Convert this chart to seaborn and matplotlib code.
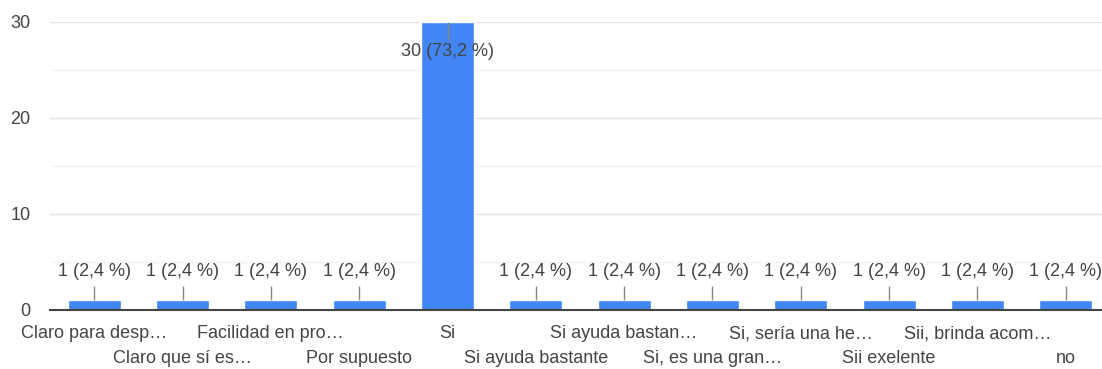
import pandas as pd
import seaborn as sns
import matplotlib.pyplot as plt

respuestas = ['Claro para desp…', 'Claro que sí es…', 'Facilidad en pro…', 'Por supuesto',
              'Si', 'Si ayuda bastante', 'Si ayuda bastan…', 'Si, es una gran…',
              'Si, sería una he…', 'Sii exelente', 'Sii, brinda acom…', 'no']
conteos = [1, 1, 1, 1, 30, 1, 1, 1, 1, 1, 1, 1]
porcentajes = ['2,4', '2,4', '2,4', '2,4', '73,2', '2,4', '2,4', '2,4', '2,4', '2,4', '2,4', '2,4']
yticks = [0, 10, 20, 30]

df = pd.DataFrame({'respuesta': respuestas, 'conteo': conteos})

sns.set_style('white')
plt.rcParams['font.family'] = ['Liberation Sans', 'DejaVu Sans']

fig = plt.figure(figsize=(11.02, 3.69), dpi=100)
ax = fig.add_axes([50 / 1102, 1 - 310 / 369, 1060 / 1102, 288 / 369])

# grid (minor at 5s, major at 10s)
for v in [5, 15, 25]:
    ax.axhline(v, color='#f2f2f2', lw=1, zorder=0)
for v in [10, 20, 30]:
    ax.axhline(v, color='#e4e4e4', lw=1, zorder=0)

sns.barplot(data=df, x='respuesta', y='conteo', color='#4285f4', saturation=1,
            width=0.6, ax=ax, zorder=2)

# etiquetas de valor con linea guia
for p, n, pct in zip(ax.patches, conteos, porcentajes):
    x = p.get_x() + p.get_width() / 2
    h = p.get_height()
    txt = f'{n} ({pct} %)'
    if h > 20:
        ax.vlines(x, h - 1.9, h, color='#888888', lw=1, zorder=3)
        ax.text(x, h - 3.1, txt, ha='center', va='center', fontsize=13, color='#444444', zorder=4)
    else:
        ax.vlines(x, h, h + 1.5, color='#888888', lw=1, zorder=3)
        ax.text(x, h + 3.0, txt, ha='center', va='center', fontsize=13, color='#444444', zorder=4)

ax.set_ylim(0, 30)
ax.set_xlim(-0.5, 11.5)
ax.set_yticks(yticks)
ax.tick_params(axis='y', length=0, labelsize=13, labelcolor='#444444', pad=14)
ax.tick_params(axis='x', length=0, labelsize=13, labelcolor='#444444')
ax.set_xticks(range(len(respuestas)))
ax.set_xticklabels(respuestas)
for i, tick in enumerate(ax.xaxis.get_major_ticks()):
    tick.set_pad(11 if i % 2 == 0 else 29)
ax.set_xlabel('')
ax.set_ylabel('')
for s in ['top', 'right', 'left']:
    ax.spines[s].set_visible(False)
ax.spines['bottom'].set_color('#444444')
ax.spines['bottom'].set_linewidth(1.5)
ax.spines['bottom'].set_zorder(5)

fig.savefig('out.png', dpi=100)
